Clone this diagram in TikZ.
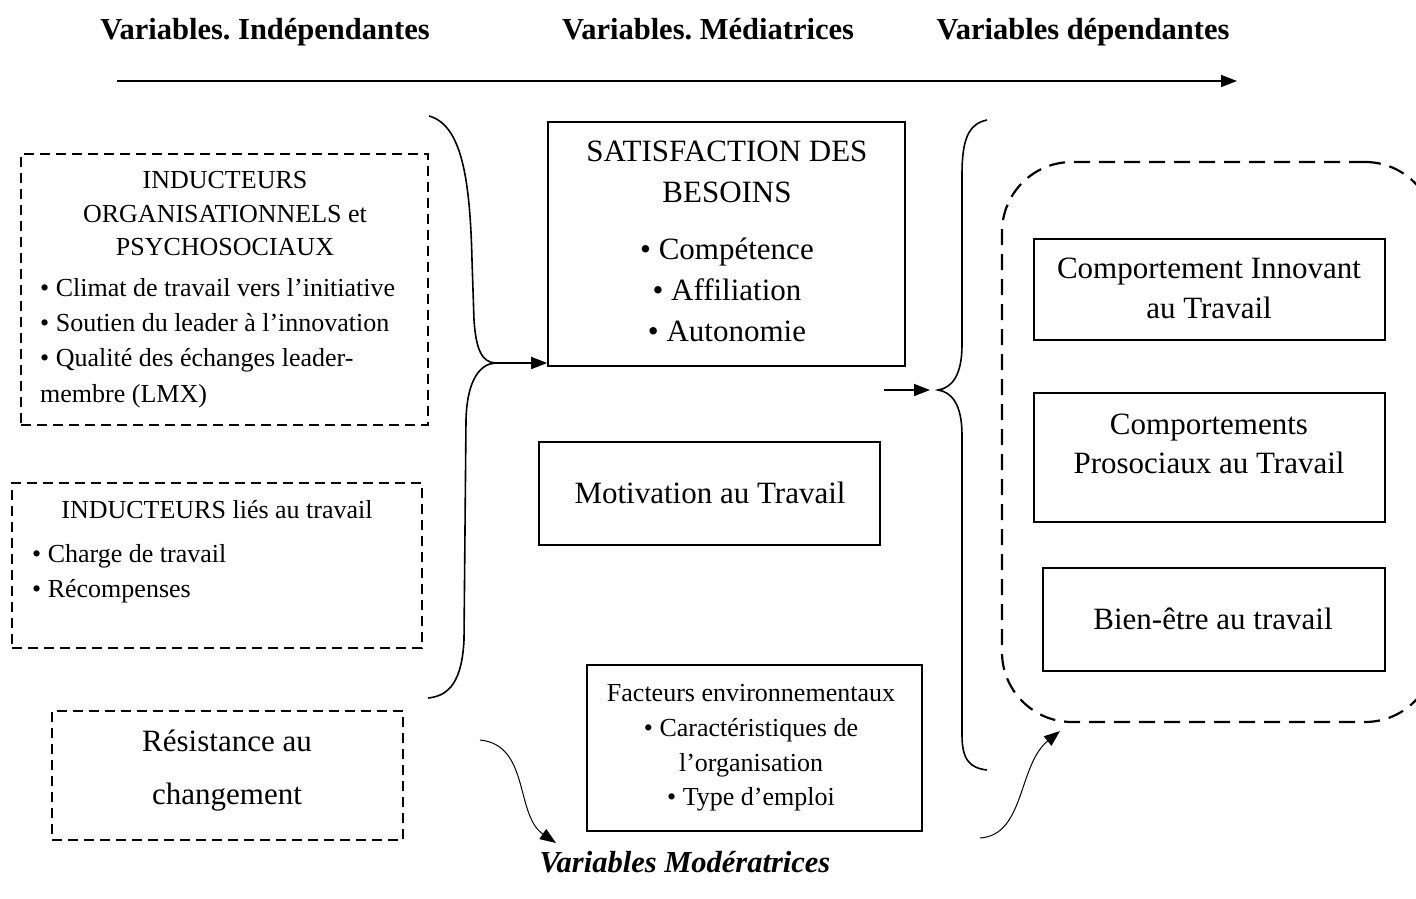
\documentclass[tikz,border=0pt]{standalone}
\usepackage{fontspec}
\setmainfont{Liberation Serif}
\usetikzlibrary{arrows.meta}
\frenchspacing

\begin{document}
\begin{tikzpicture}[x=1pt,y=-1pt,
    solidbox/.style={draw,line width=1.6pt,inner sep=0pt},
    dashbox/.style={draw,line width=1.6pt,dash pattern=on 10pt off 6pt,inner sep=0pt},
    big/.style={font=\fontsize{31}{41}\selectfont,inner sep=0pt},
    small/.style={font=\fontsize{26}{35}\selectfont,inner sep=0pt},
    head/.style={font=\fontsize{30.5}{36}\selectfont\bfseries,inner sep=0pt,anchor=base},
    arr/.style={-{Triangle[length=16pt,width=12pt]},line width=1.6pt},
    brace/.style={line width=1.6pt}]
    \useasboundingbox (0,0) rectangle (1416,899);
    \clip (0,0) rectangle (1416,899);
    % titres
    \node[head] (hind) at (265,40) {Variables. Indépendantes};
    \node[head] (hmed) at (708,40) {Variables. Médiatrices};
    \node[head] (hdep) at (1083,40) {Variables dépendantes};
    \coordinate (axe1) at (117,81);
    \coordinate (axe2) at (1237,81);
    \draw[arr] (axe1) -- (axe2);
    % variables independantes
    \node[dashbox,minimum width=407,minimum height=271] (orga) at (224.5,289.5) {};
    \node[small,align=center] (orgatxt) at (225,214) {INDUCTEURS\\[-1.5pt]ORGANISATIONNELS et\\[-1.5pt]PSYCHOSOCIAUX};
    \node[small,align=left,anchor=west] (orgalist) at (40,343) {\textbullet{} Climat de travail vers l’initiative\\[0.3pt]\textbullet{} Soutien du leader à l’innovation\\[0.3pt]\textbullet{} Qualité des échanges leader-\\[0.3pt]membre (LMX)};
    \node[dashbox,minimum width=410,minimum height=165] (trav) at (217,565.5) {};
    \node[small,anchor=base] (travtxt) at (217,518) {INDUCTEURS liés au travail};
    \node[small,align=left,anchor=west] (travlist) at (32,573.5) {\textbullet{} Charge de travail\\\textbullet{} Récompenses};
    \node[dashbox,minimum width=351,minimum height=129] (resi) at (227.5,775.5) {};
    \node[big,align=center] (resitxt) at (227,771) {Résistance au\\[12pt]changement};
    % accolade gauche
    \coordinate (ltip) at (495,363);
    \draw[brace] (429,116) .. controls (462,125) and (470,180) .. (472,260) -- (474,320)
        .. controls (476,350) and (482,362) .. (ltip)
        .. controls (480,364) and (467,380) .. (466,420) -- (464,640)
        .. controls (462,680) and (450,696) .. (428,698);
    % variables mediatrices
    \node[solidbox,minimum width=357,minimum height=244] (besoins) at (726.5,244) {};
    \node[big,align=center] (besoinstxt) at (727,241) {SATISFACTION DES\\BESOINS\\[16pt]\textbullet{} Compétence\\\textbullet{} Affiliation\\\textbullet{} Autonomie};
    \draw[arr] (ltip) -- (besoins.west |- ltip);
    \node[solidbox,minimum width=341,minimum height=103] (motiv) at (709.5,493.5) {};
    \node[big,anchor=base] (motivtxt) at (710,503) {Motivation au Travail};
    \node[solidbox,minimum width=335,minimum height=166] (envir) at (754.5,748) {};
    \node[small,align=center] (envirtxt) at (751,748) {Facteurs environnementaux\\[-0.3pt]\textbullet{} Caractéristiques de\\[-0.3pt]l’organisation\\[-0.3pt]\textbullet{} Type d’emploi};
    \node[font=\fontsize{30.5}{36}\selectfont\bfseries\itshape,inner sep=0pt,anchor=base] (modtxt) at (685,872) {Variables Modératrices};
    % accolade droite
    \coordinate (rtail) at (884,390);
    \coordinate (rtip) at (938,390);
    \draw[arr] (rtail) -- ([xshift=-8pt]rtip);
    \draw[brace] (987,120) .. controls (968,124) and (962,140) .. (962,175) -- (962,345)
        .. controls (962,375) and (952,388) .. (rtip)
        .. controls (952,392) and (962,405) .. (962,435) -- (962,735)
        .. controls (962,760) and (970,768) .. (987,770);
    % variables dependantes
    \node[draw,line width=2.2pt,dash pattern=on 16pt off 9pt,rounded corners=70pt,minimum width=433,minimum height=560,inner sep=0pt] (depend) at (1218.5,442) {};
    \node[solidbox,minimum width=351,minimum height=101] (innov) at (1209.5,289.5) {};
    \node[big,align=center,font=\fontsize{31}{40}\selectfont] (innovtxt) at (1209,288) {Comportement Innovant\\au Travail};
    \node[solidbox,minimum width=351,minimum height=129] (proso) at (1209.5,457.5) {};
    \node[big,align=center,font=\fontsize{31}{39}\selectfont] (prosotxt) at (1209,443.5) {Comportements\\Prosociaux au Travail};
    \node[solidbox,minimum width=342,minimum height=103] (bien) at (1214,619.5) {};
    \node[big,anchor=base] (bientxt) at (1213,629) {Bien-être au travail};
    % fleches des moderatrices
    \coordinate (mod1) at (480,740);
    \coordinate (mod2) at (556,843);
    \draw[arr,line width=1pt] (mod1) .. controls (530,745) and (515,815) .. (mod2);
    \coordinate (mod3) at (980,838);
    \coordinate (mod4) at (1060,731);
    \draw[arr,line width=1pt] (mod3) .. controls (1025,835) and (1018,765) .. (mod4);
\end{tikzpicture}
\end{document}
